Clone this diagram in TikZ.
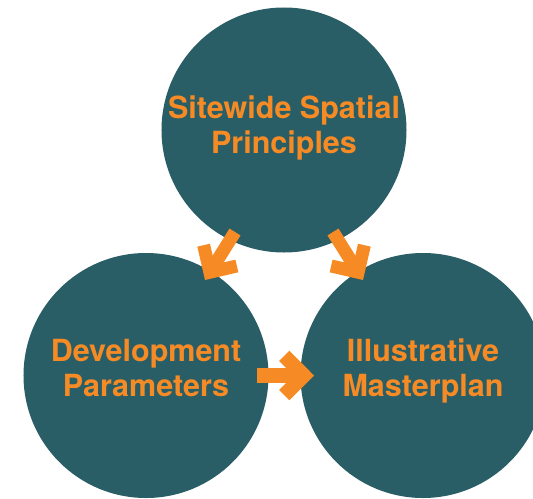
\documentclass[tikz,border=0pt]{standalone}
\usepackage{fontspec}
\setmainfont{TeX Gyre Heros}
\usetikzlibrary{arrows.meta,calc}
\definecolor{deepteal}{RGB}{42,94,102}
\definecolor{flame}{RGB}{246,139,38}

\begin{document}
\begin{tikzpicture}[x=0.25mm, y=0.25mm,
    bubble/.style={circle, fill=deepteal, minimum size=61.25mm, inner sep=0pt,
        text=flame, font=\bfseries\fontsize{21.7}{24.5}\selectfont,
        align=center, text height=10.25mm, text depth=0pt},
    flow/.style={draw=flame, line width=3.25mm,
        -{Straight Barb[length=4.9mm, width=9.8mm, sharp]}}]
    \useasboundingbox (0,0) rectangle (533,498);
    \node[bubble, text height=11.5mm] (top) at (284,368) {Sitewide Spatial\\Principles};
    \node[bubble] (dev) at (146,122.5) {Development\\Parameters};
    \node[bubble] (plan) at (423,122.5) {Illustrative\\Masterplan};
    \draw[flow] ($(top)+(-49,-102)$) -- ($(dev)+(59,95.5)$);
    \draw[flow] ($(top)+(49,-102)$) -- ($(plan)+(-60,95.5)$);
    \draw[flow, line width=3.6mm] ($(dev)+(111,0)$) -- ($(plan)+(-109,0)$);
\end{tikzpicture}
\end{document}
